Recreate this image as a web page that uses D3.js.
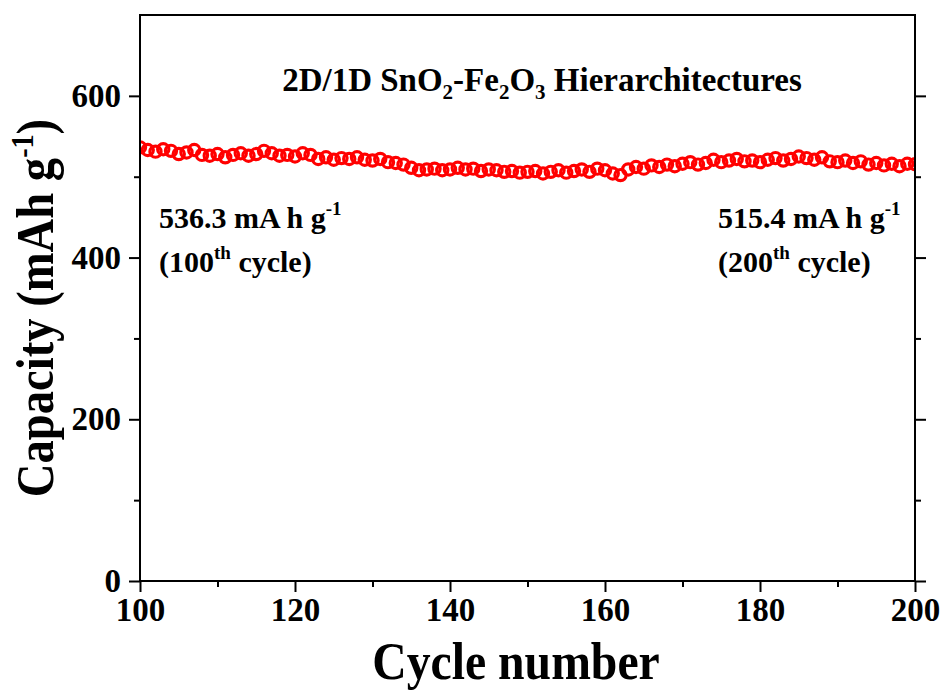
<!DOCTYPE html>
<html>
<head>
<meta charset="utf-8">
<script src="https://cdn.jsdelivr.net/npm/d3@7"></script>
<style>
  html, body { margin: 0; padding: 0; background: #fff; }
  svg { display: block; }
  text { font-family: "Liberation Serif", "Times New Roman", serif; font-weight: bold; fill: #000; }
</style>
</head>
<body>
<svg id="chart" width="944" height="690"></svg>
<script>
// Cycle numbers 100 … 200
const cycles = d3.range(100, 201);

// Discharge capacity (mAh g-1) for each cycle
const capacity = [
  536.3, 533, 531, 534, 532, 528, 530, 533, 527, 526,
  528, 524, 527, 529, 526, 528, 532, 529, 526, 527,
  525, 529, 527, 522, 524, 521, 523, 522, 524, 521,
  520, 522, 518, 517, 515, 511, 508, 509, 510, 508,
  509, 511, 509, 510, 507, 509, 508, 506, 507, 505,
  506, 507, 504, 506, 508, 505, 507, 509, 506, 510,
  508, 504, 502, 509, 512, 510, 514, 512, 515, 513,
  516, 518, 515, 517, 521, 518, 520, 522, 519, 520,
  518, 521, 523, 520, 522, 525, 523, 521, 524, 519,
  518, 520, 517, 519, 515, 517, 514, 516, 513, 516,
  515.4
];

const xTicks = [100, 120, 140, 160, 180, 200];
const xMinorTicks = [110, 130, 150, 170, 190];
const yTicks = [0, 200, 400, 600];
const yMinorTicks = [100, 300, 500];

const xDomain = [100, 200];
const yDomain = [0, 700];

const plotLeft = 140, plotRight = 915, plotTop = 15, plotBottom = 581;

const svg = d3.select("#chart");

const x = d3.scaleLinear().domain(xDomain).range([plotLeft, plotRight]);
const y = d3.scaleLinear().domain(yDomain).range([plotBottom, plotTop]);

// Clip region for the markers
svg.append("defs").append("clipPath").attr("id", "plot-clip")
  .append("rect")
  .attr("x", plotLeft).attr("y", plotTop)
  .attr("width", plotRight - plotLeft).attr("height", plotBottom - plotTop);

// Data markers: hollow red circles
svg.append("g").attr("clip-path", "url(#plot-clip)")
  .selectAll("circle")
  .data(cycles.map((c, i) => ({ c, v: capacity[i] })))
  .join("circle")
  .attr("cx", d => x(d.c))
  .attr("cy", d => y(d.v))
  .attr("r", 5.6)
  .attr("fill", "none")
  .attr("stroke", "#ff0000")
  .attr("stroke-width", 3.2);

// Axis helper: drop the domain path, thicken tick lines
function styleAxis(g) {
  g.select(".domain").remove();
  g.selectAll("line").attr("stroke", "#000").attr("stroke-width", 2);
}
function styleLabels(g) {
  g.selectAll("text").attr("font-size", 33).attr("fill", "#000")
    .attr("font-family", "Liberation Serif, serif").attr("font-weight", "bold");
}

// Bottom axis
const gxMajor = svg.append("g").attr("transform", `translate(0,${plotBottom})`)
  .call(d3.axisBottom(x).tickValues(xTicks).tickSize(11).tickPadding(6).tickFormat(d3.format("d")));
styleAxis(gxMajor);
styleLabels(gxMajor);

const gxMinor = svg.append("g").attr("transform", `translate(0,${plotBottom})`)
  .call(d3.axisBottom(x).tickValues(xMinorTicks).tickSize(6).tickFormat(""));
styleAxis(gxMinor);

// Left axis
const gyMajor = svg.append("g").attr("transform", `translate(${plotLeft},0)`)
  .call(d3.axisLeft(y).tickValues(yTicks).tickSize(11).tickPadding(8).tickFormat(d3.format("d")));
styleAxis(gyMajor);
styleLabels(gyMajor);

const gyMinor = svg.append("g").attr("transform", `translate(${plotLeft},0)`)
  .call(d3.axisLeft(y).tickValues(yMinorTicks).tickSize(6).tickFormat(""));
styleAxis(gyMinor);

// Right axis (ticks only)
const gyR = svg.append("g").attr("transform", `translate(${plotRight},0)`)
  .call(d3.axisRight(y).tickValues(yTicks).tickSize(11).tickFormat(""));
styleAxis(gyR);
const gyRMinor = svg.append("g").attr("transform", `translate(${plotRight},0)`)
  .call(d3.axisRight(y).tickValues(yMinorTicks).tickSize(6).tickFormat(""));
styleAxis(gyRMinor);

// Frame
svg.append("rect")
  .attr("x", plotLeft).attr("y", plotTop)
  .attr("width", plotRight - plotLeft).attr("height", plotBottom - plotTop)
  .attr("fill", "none").attr("stroke", "#000").attr("stroke-width", 2);

// Axis titles
svg.append("text")
  .attr("transform", `translate(516,679) scale(0.9,1)`)
  .attr("text-anchor", "middle")
  .attr("font-size", 53)
  .text("Cycle number");

const yTitle = svg.append("text")
  .attr("transform", `translate(53,${(plotTop + plotBottom) / 2 + 10}) rotate(-90) scale(0.88,1)`)
  .attr("text-anchor", "middle")
  .attr("font-size", 53);
yTitle.append("tspan").text("Capacity (mAh g");
yTitle.append("tspan").attr("font-size", 32).attr("dy", -20).text("-1");
yTitle.append("tspan").attr("dy", 20).text(")");

// Sample title with subscripts
const title = svg.append("text")
  .attr("x", 542).attr("y", 91)
  .attr("text-anchor", "middle")
  .attr("font-size", 33);
title.append("tspan").text("2D/1D SnO");
title.append("tspan").attr("font-size", 21).attr("dy", 8).text("2");
title.append("tspan").attr("dy", -8).text("-Fe");
title.append("tspan").attr("font-size", 21).attr("dy", 8).text("2");
title.append("tspan").attr("dy", -8).text("O");
title.append("tspan").attr("font-size", 21).attr("dy", 8).text("3");
title.append("tspan").attr("dy", -8).text(" Hierarchitectures");

// Capacity annotations at the first and last cycle
function annotate(xPos, value, cycle) {
  const l1 = svg.append("text").attr("x", xPos).attr("y", 228).attr("font-size", 30);
  l1.append("tspan").text(`${value} mA h g`);
  l1.append("tspan").attr("font-size", 19).attr("dy", -13).text("-1");

  const l2 = svg.append("text").attr("x", xPos).attr("y", 272).attr("font-size", 30);
  l2.append("tspan").text(`(${cycle}`);
  l2.append("tspan").attr("font-size", 19).attr("dy", -13).text("th");
  l2.append("tspan").attr("dy", 13).text(" cycle)");
}
annotate(159, capacity[0], cycles[0]);
annotate(718, capacity[capacity.length - 1], cycles[cycles.length - 1]);
</script>
</body>
</html>
